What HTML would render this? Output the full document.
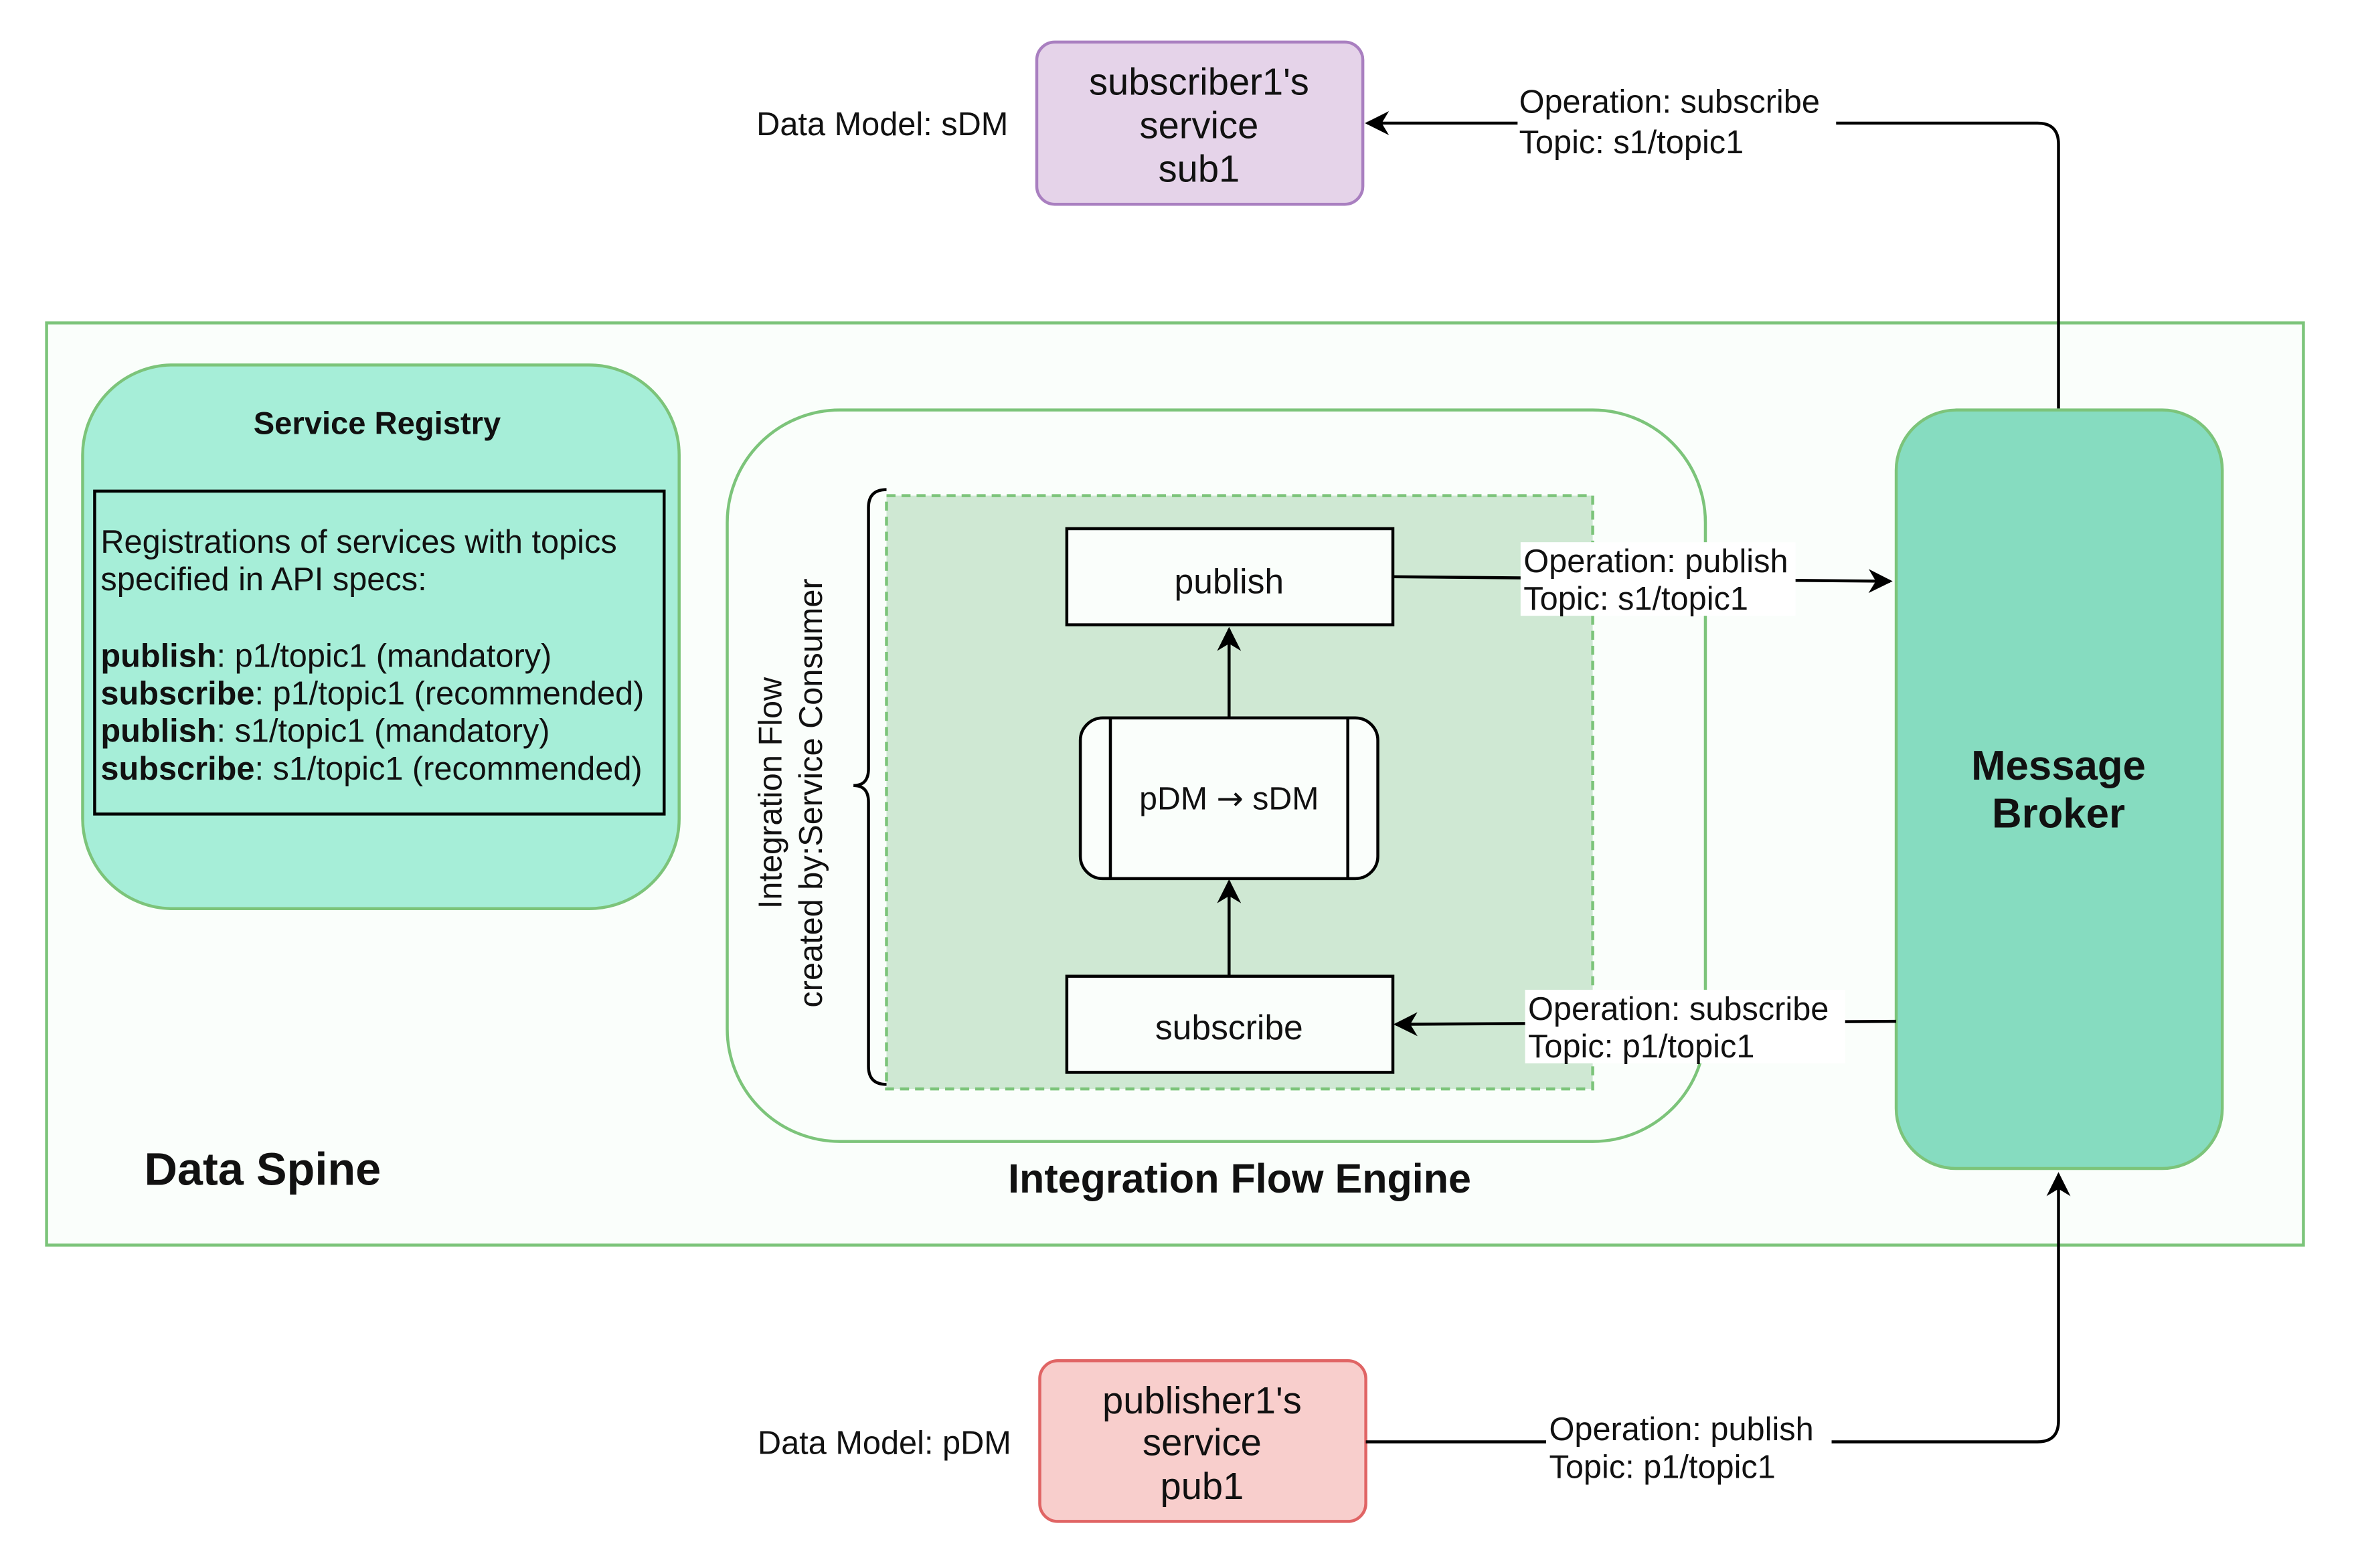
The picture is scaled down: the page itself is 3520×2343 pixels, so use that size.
<!DOCTYPE html>
<html><head><meta charset="utf-8"><style>
html,body{margin:0;padding:0;background:#fff;}
svg{display:block;}
text{font-family:"Liberation Sans",Arial,sans-serif;fill:#111;}
</style></head><body>
<svg width="3520" height="2343" viewBox="0 0 1568 1044" preserveAspectRatio="none" xmlns="http://www.w3.org/2000/svg">
<defs>
<marker id="ar2" viewBox="0 0 10 10" refX="9" refY="5" markerWidth="16" markerHeight="16" orient="auto" markerUnits="userSpaceOnUse">
<path d="M0,0 L10,5 L0,10 L3,5 Z" fill="#000"/>
</marker>
</defs>
<rect width="1568" height="1044" fill="#fff"/>

<rect x="31" y="215" width="1502" height="614" fill="#fafefb" stroke="#7cc47a" stroke-width="2"/>
<text x="96" y="789" font-size="30.5" font-weight="bold">Data Spine</text>

<rect x="55" y="243" width="397" height="362" rx="60" fill="#a6eed8" stroke="#7cc47a" stroke-width="2"/>
<text x="251" y="289" font-size="21" font-weight="bold" text-anchor="middle">Service Registry</text>
<rect x="63" y="327" width="379" height="215" fill="none" stroke="#000" stroke-width="2"/>
<g font-size="21.7">
<text x="67" y="368">Registrations of services with topics</text>
<text x="67" y="393">specified in API specs:</text>
<text x="67" y="444"><tspan font-weight="bold">publish</tspan>: p1/topic1 (mandatory)</text>
<text x="67" y="469"><tspan font-weight="bold">subscribe</tspan>: p1/topic1 (recommended)</text>
<text x="67" y="494"><tspan font-weight="bold">publish</tspan>: s1/topic1 (mandatory)</text>
<text x="67" y="519"><tspan font-weight="bold">subscribe</tspan>: s1/topic1 (recommended)</text>
</g>

<rect x="484" y="273" width="651" height="487" rx="75" fill="#fafefb" stroke="#7cc47a" stroke-width="2"/>
<text x="825" y="794" font-size="27.2" font-weight="bold" text-anchor="middle">Integration Flow Engine</text>
<rect x="590" y="330" width="470" height="395" fill="#cfe8d3" stroke="#7cc47a" stroke-width="2" stroke-dasharray="6,4"/>
<path d="M590,326 Q578,326 578,338 L578,512 Q578,523 568,523 Q578,523 578,534 L578,710 Q578,722 590,722" fill="none" stroke="#000" stroke-width="2"/>
<g transform="translate(527,528) rotate(-90)" font-size="21.7" text-anchor="middle">
<text x="0" y="-7">Integration Flow</text>
<text x="0" y="20">created by:Service Consumer</text>
</g>

<rect x="710" y="352" width="217" height="64" fill="#fafefb" stroke="#000" stroke-width="2"/>
<text x="818" y="395" font-size="23" text-anchor="middle">publish</text>
<rect x="719" y="478" width="198" height="107" rx="15" fill="#fafefb" stroke="#000" stroke-width="2"/>
<line x1="739" y1="478" x2="739" y2="585" stroke="#000" stroke-width="2"/>
<line x1="897" y1="478" x2="897" y2="585" stroke="#000" stroke-width="2"/>
<text x="818" y="539" font-size="21.5" text-anchor="middle">pDM <tspan font-family="DejaVu Sans">→</tspan> sDM</text>
<rect x="710" y="650" width="217" height="64" fill="#fafefb" stroke="#000" stroke-width="2"/>
<text x="818" y="692" font-size="23" text-anchor="middle">subscribe</text>
<line x1="818" y1="478" x2="818" y2="419" stroke="#000" stroke-width="2" marker-end="url(#ar2)"/>
<line x1="818" y1="650" x2="818" y2="587" stroke="#000" stroke-width="2" marker-end="url(#ar2)"/>

<rect x="1262" y="273" width="217" height="505" rx="40" fill="#86dcc0" stroke="#7cc47a" stroke-width="2"/>
<text x="1370" y="519" font-size="27.5" font-weight="bold" text-anchor="middle">Message</text>
<text x="1370" y="551" font-size="27.5" font-weight="bold" text-anchor="middle">Broker</text>

<line x1="927" y1="384" x2="1258" y2="387" stroke="#000" stroke-width="2" marker-end="url(#ar2)"/>
<rect x="1012" y="361" width="183" height="49" fill="#fff"/>
<text x="1014" y="381" font-size="21.7">Operation: publish</text>
<text x="1014" y="406" font-size="21.7">Topic: s1/topic1</text>

<line x1="1262" y1="680" x2="929" y2="682" stroke="#000" stroke-width="2" marker-end="url(#ar2)"/>
<rect x="1015" y="659" width="213" height="49" fill="#fff"/>
<text x="1017" y="679" font-size="21.7">Operation: subscribe</text>
<text x="1017" y="704" font-size="21.7">Topic: p1/topic1</text>

<rect x="690" y="28" width="217" height="108" rx="12" fill="#e5d3e9" stroke="#a97fc0" stroke-width="2"/>
<g font-size="25" text-anchor="middle">
<text x="798" y="63">subscriber1's</text>
<text x="798" y="92">service</text>
<text x="798" y="121">sub1</text>
</g>
<text x="671" y="90" font-size="21.7" text-anchor="end">Data Model: sDM</text>
<path d="M1370,272 L1370,96 Q1370,82 1356,82 L910,82" fill="none" stroke="#000" stroke-width="2" marker-end="url(#ar2)"/>
<rect x="1010" y="56" width="212" height="50" fill="#fff"/>
<text x="1011" y="75" font-size="21.7">Operation: subscribe</text>
<text x="1011" y="102" font-size="21.7">Topic: s1/topic1</text>

<rect x="692" y="906" width="217" height="107" rx="12" fill="#f8cecc" stroke="#e06464" stroke-width="2"/>
<g font-size="25" text-anchor="middle">
<text x="800" y="941">publisher1's</text>
<text x="800" y="969">service</text>
<text x="800" y="998">pub1</text>
</g>
<text x="673" y="968" font-size="21.7" text-anchor="end">Data Model: pDM</text>
<path d="M909,960 L1356,960 Q1370,960 1370,946 L1370,782" fill="none" stroke="#000" stroke-width="2" marker-end="url(#ar2)"/>
<rect x="1029" y="938" width="190" height="50" fill="#fff"/>
<text x="1031" y="959" font-size="21.7">Operation: publish</text>
<text x="1031" y="984" font-size="21.7">Topic: p1/topic1</text>
</svg>
</body></html>
